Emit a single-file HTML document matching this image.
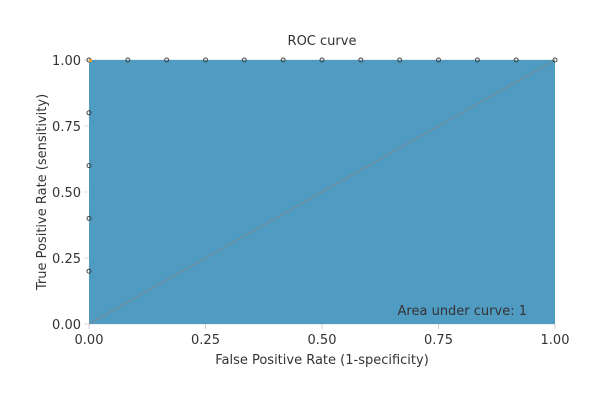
<!DOCTYPE html>
<html><head><meta charset="utf-8"><style>
body{margin:0;background:#fff;}
svg text{font-family:"DejaVu Sans","Liberation Sans",sans-serif;fill:#333;}
</style></head><body>
<svg width="600" height="400">
<text x="322" y="45" font-size="13" text-anchor="middle">ROC curve</text>
<g id="grid"></g>
<g id="plot"></g>
<text x="322" y="364" font-size="13" text-anchor="middle">False Positive Rate (1-specificity)</text>
<text transform="translate(46,192) rotate(-90)" font-size="13" text-anchor="middle">True Positive Rate (sensitivity)</text>
<text x="527" y="315" font-size="13" text-anchor="end">Area under curve: 1</text>
</svg>
<script>
const fprValues=[0,0,0,0,0,0,1/12,2/12,3/12,4/12,5/12,6/12,7/12,8/12,9/12,10/12,11/12,1];
const tprValues=[0,0.2,0.4,0.6,0.8,1,1,1,1,1,1,1,1,1,1,1,1,1];
const tickLabels=["0.00","0.25","0.50","0.75","1.00"];
const tickValues=[0,0.25,0.5,0.75,1];
const X0=89,X1=555,Y0=324,Y1=60;
const sx=v=>X0+v*(X1-X0), sy=v=>Y0-v*(Y0-Y1);
const NS="http://www.w3.org/2000/svg";
const grid=document.getElementById('grid'), plot=document.getElementById('plot');
function mk(tag,attrs,parent){const e=document.createElementNS(NS,tag);for(const k in attrs)e.setAttribute(k,attrs[k]);parent.appendChild(e);return e;}
tickValues.forEach((t,i)=>{
  const g=mk('line',{x1:X0-5,x2:X1,y1:sy(t),y2:sy(t),stroke:'#ddd'},grid);
  
  
  const ty=mk('text',{x:X0-8,y:sy(t)+5,'font-size':13,'text-anchor':'end'},grid);ty.textContent=tickLabels[i];
  
  
  const vt=mk('line',{x1:sx(t),x2:sx(t),y1:Y0,y2:Y0+5,stroke:'#ccc'},grid);
  
  
  const tx=mk('text',{x:sx(t),y:Y0+20,'font-size':13,'text-anchor':'middle'},grid);tx.textContent=tickLabels[i];
  
  
});
let d='M'+sx(fprValues[0])+','+sy(0);
fprValues.forEach((f,i)=>{d+=' L'+sx(f)+','+sy(tprValues[i]);});
d+=' L'+sx(1)+','+sy(0)+' Z';
const area=mk('path',{d:d,fill:'#509bc2'},plot);


const diag=mk('line',{x1:sx(0),y1:sy(0),x2:sx(1),y2:sy(1),stroke:'#7a8a92','stroke-width':1},plot);


fprValues.forEach((f,i)=>{
  if(f===0&&tprValues[i]===0)return;
  const c=mk('circle',{cx:sx(f),cy:sy(tprValues[i]),r:2,fill:'none',stroke:'#444','stroke-width':1},plot);
  
  
});
const o=mk('rect',{x:sx(0),y:sy(1)-1,width:3,height:3,fill:'#f0a030'},plot);


</script>
</body></html>
